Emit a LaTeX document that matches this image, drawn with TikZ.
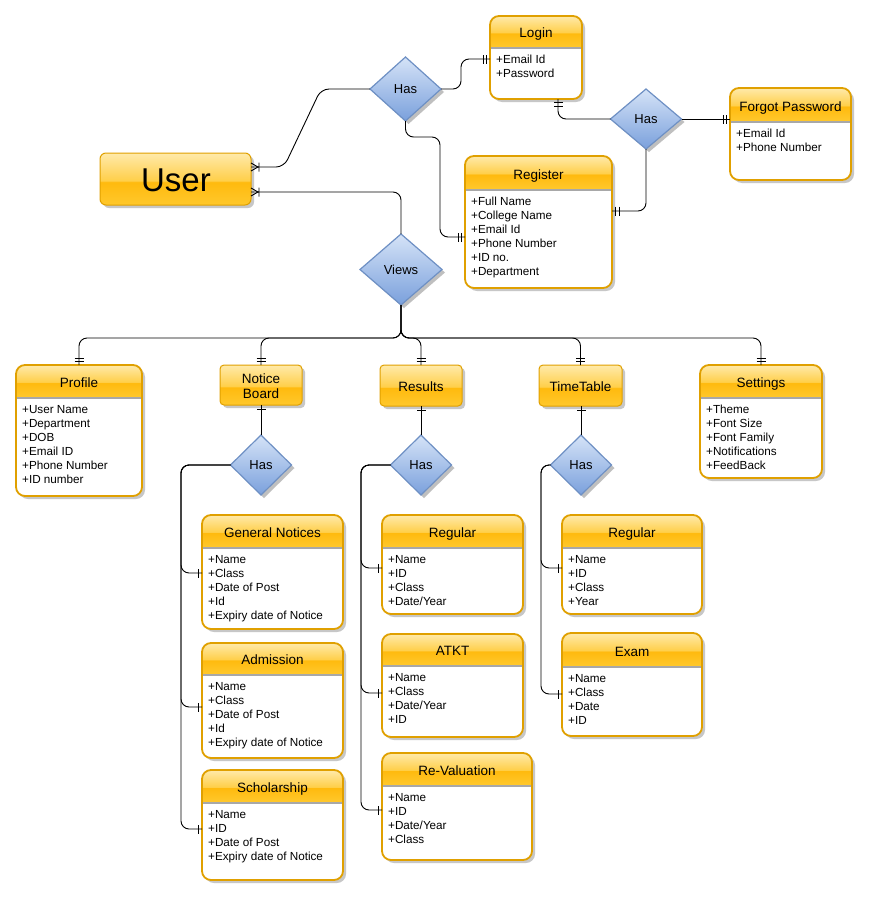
\documentclass[tikz,border=0pt]{standalone}
\usepackage{fontspec}
\setmainfont{Liberation Sans}
\usetikzlibrary{shapes.geometric,shadows}

% palette
\definecolor{hdrtop}{HTML}{FFEAAA}
\definecolor{hdrmid}{HTML}{FFCF4A}
\definecolor{hdrmidlow}{HTML}{FFBA0E}
\definecolor{hdrbot}{HTML}{FFC82C}
\definecolor{entedge}{HTML}{E0A000}
\definecolor{diamtop}{HTML}{D5E3F7}
\definecolor{diambot}{HTML}{7AA0DC}
\definecolor{diamedge}{HTML}{6E90C4}
\definecolor{sepgray}{HTML}{A8A8A8}

% glossy two-tone header fill (box spans 25bp..75bp)
\pgfdeclareverticalshading{gloss}{100bp}{color(0bp)=(hdrbot); color(25bp)=(hdrbot); color(47bp)=(hdrmidlow); color(48.5bp)=(hdrmid); color(75bp)=(hdrtop); color(100bp)=(hdrtop)}

% entity with header and attribute list
% #1 name, #2 x1, #3 y1, #4 x2, #5 y2, #6 header bottom, #7 title, #8 attributes
\newcommand\entity[8]{%
  \node[entbody, minimum width={#4-#2}, minimum height={#5-#3}, anchor=north west] (#1) at (#2,#3) {};
  \begin{scope}
    \clip[rounded corners=9pt] (#2,#3) rectangle (#4,#5);
    \shade[shading=gloss] (#2,#3) rectangle (#4,#6);
  \end{scope}
  \draw[sepgray, line width=1.6pt] (#2,#6+0.8) -- (#4,#6+0.8);
  \draw[entedge, line width=1.8pt, rounded corners=9pt] (#2,#3) rectangle (#4,#5);
  \node[titletext, anchor=base] (#1-title) at ({(#2+#4)/2},#6-10) {#7};
  \node[attrtext] (#1-attrs) at (#2+6,#6+6.5) {\rule{0pt}{10pt}#8};
}

% header-only entity
% #1 name, #2 x1, #3 y1, #4 x2, #5 y2, #6 corner radius, #7 title
\newcommand\headbox[7]{%
  \node[hbox, rounded corners=#6, minimum width={#4-#2}, minimum height={#5-#3}, anchor=north west] (#1) at (#2,#3) {};
  \node[titletext, anchor=base] (#1-title) at ({(#2+#4)/2},#5-14.3) {#7};
}

\tikzset{
  conn/.style={line width=0.9pt, rounded corners=8pt},
  markline/.style={line width=0.9pt},
  boxshadow/.style={drop shadow={shadow xshift=3pt, shadow yshift=-3pt, fill=black!22, opacity=1}},
  entbody/.style={rectangle, rounded corners=9pt, fill=white, inner sep=0pt, outer sep=0pt, boxshadow},
  hbox/.style={rectangle, draw=entedge, line width=1pt, shade, shading=gloss, inner sep=0pt, outer sep=0pt, boxshadow},
  titletext/.style={font=\fontsize{13.5}{15}\selectfont, inner sep=0pt, align=center},
  attrtext/.style={font=\fontsize{11.7}{14}\selectfont, inner sep=0pt, align=left, anchor=north west},
  relation/.style={diamond, draw=diamedge, line width=1.2pt, top color=diamtop, bottom color=diambot,
    inner sep=0pt, outer sep=0pt, font=\fontsize{13}{15}\selectfont,
    drop shadow={shadow xshift=3pt, shadow yshift=-3pt, fill=black!25, opacity=1}},
  pics/onebar/.style={code={\draw[markline] (4,-4.5) -- (4,4.5);}},
  pics/twobar/.style={code={\draw[markline] (3.5,-4.5) -- (3.5,4.5) (7,-4.5) -- (7,4.5);}},
  pics/crowbar/.style={code={\draw[markline] (0,-4) -- (7,0) -- (0,4) (8,-4.5) -- (8,4.5);}},
}

\begin{document}
\begin{tikzpicture}[x=1pt,y=-1pt]
\useasboundingbox (0,0) rectangle (871,900);
\fill[white] (0,0) rectangle (871,900);

% ---- entities ----
\node[hbox, rounded corners=6pt, minimum width=151pt, minimum height=52pt, anchor=north west] (user) at (100,153) {};
\node[anchor=base, inner sep=0pt, font=\fontsize{33}{36}\selectfont] (user-title) at (176,191.5) {User};

\entity{login}{490}{16}{582}{99}{47}{Login}{+Email Id\\+Password}
\entity{forgot}{730}{88}{851}{180}{121}{Forgot Password}{+Email Id\\+Phone Number}
\entity{register}{465}{156}{612}{288}{189}{Register}{+Full Name\\+College Name\\+Email Id\\+Phone Number\\+ID no.\\+Department}

\entity{profile}{16}{365}{142}{496}{397}{Profile}{+User Name\\+Department\\+DOB\\+Email ID\\+Phone Number\\+ID number}
\node[hbox, rounded corners=4pt, minimum width=82pt, minimum height=40pt, anchor=north west] (notice) at (220,365) {};
\node[titletext, anchor=north] (notice-title) at (261,373.3) {\rule{0pt}{10pt}Notice\\Board};
\headbox{results}{380}{365}{462}{406}{4pt}{Results}
\headbox{timetable}{539}{365}{622}{406}{4pt}{TimeTable}
\entity{settings}{700}{365}{822}{478}{397}{Settings}{+Theme\\+Font Size\\+Font Family\\+Notifications\\+FeedBack}

\entity{general}{202}{515}{343}{629}{547}{General Notices}{+Name\\+Class\\+Date of Post\\+Id\\+Expiry date of Notice}
\entity{admission}{202}{643}{343}{758}{674}{Admission}{+Name\\+Class\\+Date of Post\\+Id\\+Expiry date of Notice}
\entity{scholarship}{202}{770}{343}{880}{802}{Scholarship}{+Name\\+ID\\+Date of Post\\+Expiry date of Notice}

\entity{resregular}{382}{515}{523}{614}{547}{Regular}{+Name\\+ID\\+Class\\+Date/Year}
\entity{atkt}{382}{634}{523}{737}{665}{ATKT}{+Name\\+Class\\+Date/Year\\+ID}
\entity{reval}{382}{753}{532}{860}{785}{Re-Valuation}{+Name\\+ID\\+Date/Year\\+Class}

\entity{ttregular}{562}{515}{702}{614}{547}{Regular}{+Name\\+ID\\+Class\\+Year}
\entity{exam}{562}{633}{702}{736}{666}{Exam}{+Name\\+Class\\+Date\\+ID}

% ---- relationships ----
\node[relation, minimum width=71pt, minimum height=64pt] (has1) at (405.5,89) {Has};
\node[relation, minimum width=71pt, minimum height=60pt] (has2) at (646,119) {Has};
\node[relation, minimum width=82pt, minimum height=71pt] (views) at (401,269.5) {Views};
\node[relation, minimum width=61pt, minimum height=60pt] (nbhas) at (261,465) {Has};
\node[relation, minimum width=61pt, minimum height=60pt] (reshas) at (421,465) {Has};
\node[relation, minimum width=61pt, minimum height=60pt] (tthas) at (581,465) {Has};

% ---- connectors ----
\draw[conn] (user.east |- 0,167) -- (284,167) -- (321,89) -- (has1.west);
\pic at (user.east |- 0,167) {crowbar};
\draw[conn] (user.east |- 0,192) -- (401,192) -- (views.north);
\pic at (user.east |- 0,192) {crowbar};

\draw[conn] (has1.east) -- (461,89) -- (461,59) -- (login.west |- 0,59);
\pic[rotate=180] at (login.west |- 0,59) {twobar};
\draw[conn] (has1.south) -- (405.5,137) -- (440,137) -- (440,237) -- (register.west |- 0,237);
\pic[rotate=180] at (register.west |- 0,237) {twobar};

\draw[conn] (login.south -| 558,0) -- (558,119) -- (has2.west);
\pic[rotate=-90] at (login.south -| 558,0) {twobar};
\draw[conn] (has2.east) -- (forgot.west |- has2.east);
\pic[rotate=180] at (forgot.west |- has2.east) {twobar};
\draw[conn] (has2.south) -- (646,211) -- (register.east |- 0,211);
\pic at (register.east |- 0,211) {twobar};

\foreach \b in {profile,notice,results,timetable,settings}{
  \draw[conn] (views.south) -- (401,338) -- (\b.north |- 0,338) -- (\b.north);
  \pic[rotate=90] at (\b.north) {twobar};
}

\draw[conn] (notice.south) -- (nbhas.north);
\pic[rotate=-90] at (notice.south) {onebar};
\foreach \e/\y in {general/573,admission/707,scholarship/829}{
  \draw[conn] (nbhas.west) -- (181,465) -- (181,\y) -- (\e.west |- 0,\y);
  \pic[rotate=180] at (\e.west |- 0,\y) {onebar};
}

\draw[conn] (results.south) -- (reshas.north);
\pic[rotate=-90] at (results.south) {onebar};
\foreach \e/\y in {resregular/568,atkt/693,reval/810}{
  \draw[conn] (reshas.west) -- (361,465) -- (361,\y) -- (\e.west |- 0,\y);
  \pic[rotate=180] at (\e.west |- 0,\y) {onebar};
}

\draw[conn] (timetable.south -| tthas.north) -- (tthas.north);
\pic[rotate=-90] at (timetable.south -| tthas.north) {onebar};
\foreach \e/\y in {ttregular/568,exam/694}{
  \draw[conn] (tthas.west) -- (541,465) -- (541,\y) -- (\e.west |- 0,\y);
  \pic[rotate=180] at (\e.west |- 0,\y) {onebar};
}
\end{tikzpicture}
\end{document}
